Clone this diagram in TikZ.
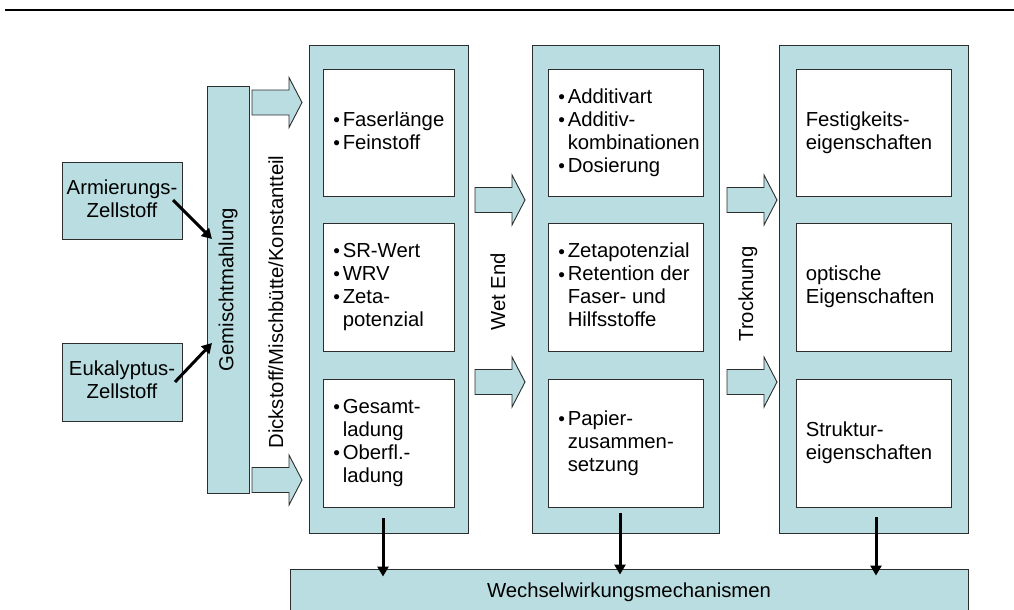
\documentclass[tikz,border=0pt]{standalone}
\usepackage{fontspec}
\setmainfont{Liberation Sans}
\usetikzlibrary{arrows.meta,calc}
\definecolor{panel}{RGB}{185,221,224}
\definecolor{edge}{RGB}{45,45,45}
% line strut, bullet item and indented continuation line
\newcommand\ls{\rule[-4.4pt]{0pt}{18.4pt}}
\newcommand\bul{\ls\makebox[9pt][l]{\hspace*{-0.5pt}\fontsize{19}{19}\selectfont\raisebox{-0.6pt}{•}}}
\newcommand\ind{\ls\hspace*{9pt}}
\tikzset{
  panelbox/.style={draw=edge, fill=panel, line width=0.9pt, inner sep=0pt},
  inbox/.style={draw=edge, fill=white, line width=0.9pt, inner sep=0pt},
  txt/.style={inner sep=0pt, align=left, anchor=west},
  vlabel/.style={rotate=90, anchor=base, inner sep=0pt},
  bigarrow/.style={line width=3pt, -{Triangle[length=10pt,width=11pt]}},
  blockarrow/.pic={
    \filldraw[draw=edge, fill=panel, line width=0.9pt, line join=miter]
      (0,-12.5) -- (37,-12.5) -- (37,-25) -- (50,0) -- (37,25) -- (37,12.5) -- (0,12.5) -- cycle;
  }
}
\begin{document}
\begin{tikzpicture}[x=1pt, y=-1pt, font=\fontsize{20.3}{23}\selectfont]
\useasboundingbox (0,0) rectangle (1014,610);
\clip (0,0) rectangle (1014,610);

% header rule
\draw[line width=2.2pt] (5,10) -- (1014,10);

% pulp sources and refining
\node[panelbox, minimum width=120pt, minimum height=77pt, align=center] (arm) at (122,200.5) {\ls Armierungs-\\\ls Zellstoff};
\node[panelbox, minimum width=120pt, minimum height=78pt, align=center] (euk) at (122,382) {\ls Eukalyptus-\\\ls Zellstoff};
\node[panelbox, rotate=90, minimum width=407pt, minimum height=42pt] (gm) at (228,289.5) {Gemischtmahlung};

\coordinate (armout) at (173,200);
\coordinate (armin) at (212,239);
\coordinate (eukout) at (175,382);
\coordinate (eukin) at (212,343);
\draw[bigarrow] (armout) -- (armin);
\draw[bigarrow] (eukout) -- (eukin);

% three stage columns
\node[panelbox, minimum width=159pt, minimum height=488pt] (c1) at (388.5,289) {};
\node[panelbox, minimum width=187pt, minimum height=488pt] (c2) at (625.5,289) {};
\node[panelbox, minimum width=189pt, minimum height=488pt] (c3) at (873.5,289) {};

% column 1
\node[inbox, minimum width=131pt, minimum height=127pt] (b11) at (388.5,132.5) {};
\node[inbox, minimum width=131pt, minimum height=128pt] (b12) at (388.5,287) {};
\node[inbox, minimum width=131pt, minimum height=128pt] (b13) at (388.5,443) {};
\node[txt] (t11) at ([xshift=11pt]b11.west) {\bul Faserlänge\\\bul Feinstoff};
\node[txt] (t12) at ([xshift=11pt]b12.west) {\bul SR-Wert\\\bul WRV\\\bul Zeta-\\\ind potenzial};
\node[txt] (t13) at ([xshift=11pt]b13.west) {\bul Gesamt-\\\ind ladung\\\bul Oberfl.-\\\ind ladung};

% column 2
\node[inbox, minimum width=155pt, minimum height=127pt] (b21) at (625.5,132.5) {};
\node[inbox, minimum width=155pt, minimum height=128pt] (b22) at (625.5,287) {};
\node[inbox, minimum width=155pt, minimum height=128pt] (b23) at (625.5,443) {};
\node[txt] (t21) at ([xshift=11pt]b21.west) {\bul Additivart\\\bul Additiv-\\\ind kombinationen\\\bul Dosierung};
\node[txt] (t22) at ([xshift=11pt]b22.west) {\bul Zetapotenzial\\\bul Retention der\\\ind Faser- und\\\ind Hilfsstoffe};
\node[txt] (t23) at ([xshift=11pt]b23.west) {\bul Papier-\\\ind zusammen-\\\ind setzung};

% column 3
\node[inbox, minimum width=155pt, minimum height=127pt] (b31) at (873.5,132.5) {};
\node[inbox, minimum width=155pt, minimum height=128pt] (b32) at (873.5,287) {};
\node[inbox, minimum width=155pt, minimum height=128pt] (b33) at (873.5,443) {};
\node[txt] (t31) at ([xshift=10pt]b31.west) {\ls Festigkeits-\\\ls eigenschaften};
\node[txt] (t32) at ([xshift=10pt]b32.west) {\ls optische\\\ls Eigenschaften};
\node[txt] (t33) at ([xshift=10pt]b33.west) {\ls Struktur-\\\ls eigenschaften};

% block arrows between stages
\pic at (252,102.5) {blockarrow};
\pic at (252,480) {blockarrow};
\pic at (475,200) {blockarrow};
\pic at (475,382) {blockarrow};
\pic at (727,200) {blockarrow};
\pic at (727,382) {blockarrow};

% vertical stage labels
\node[vlabel] (dick) at (283,302) {Dickstoff/Mischbütte/Konstantteil};
\node[vlabel] (wet) at (505,292) {Wet End};
\node[vlabel] (troc) at (753,294) {Trocknung};

% interaction mechanisms
\node[panelbox, minimum width=678pt, minimum height=47pt] (wm) at (629,592.5) {Wechselwirkungsmechanismen};

\coordinate (d1) at (383,518);
\coordinate (d2) at (620,513);
\coordinate (d3) at (876,517);
\draw[bigarrow] (d1) -- ([yshift=-8pt]d1 |- wm.north);
\draw[bigarrow] (d2) -- ([yshift=-6pt]d2 |- wm.north);
\draw[bigarrow] (d3) -- ([yshift=-7pt]d3 |- wm.north);
\end{tikzpicture}
\end{document}
